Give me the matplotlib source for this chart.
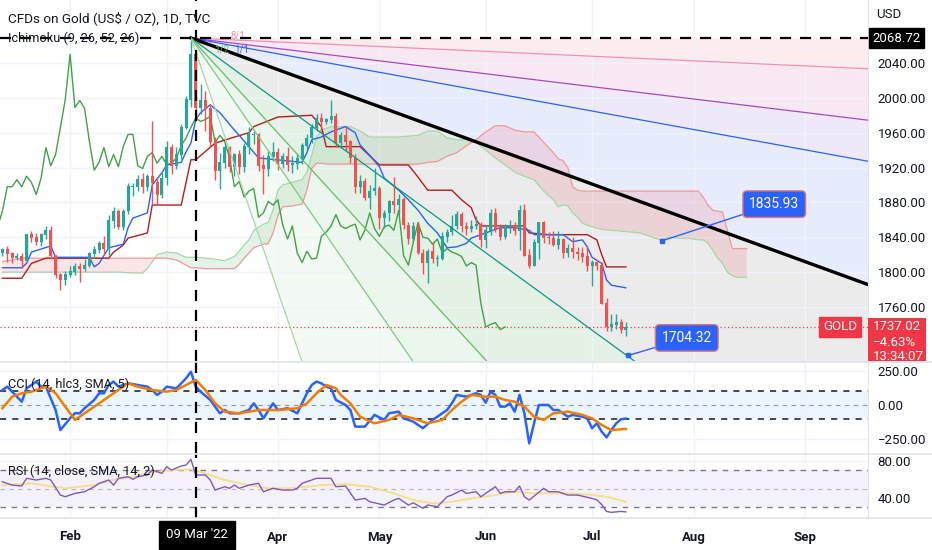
import matplotlib
matplotlib.use('Agg')
import matplotlib.pyplot as plt
from matplotlib.patches import Rectangle
import numpy as np
import pandas as pd

# daily bars, 12 Jan 2022 .. 12 Jul 2022 (bar 0 = 1 Feb)
o = [1822,1826,1821,1817,1818,1813,1843,1840,1835,1843,1848,1819,1797,1791,
     1797,1801,1807,1804,1808,1821,1826,1833,1827,1859,1870,1852,1870,1898,1898,1906,1898,1910,1903,1889,
     1908,1943,1922,1935,1966,1998,2050,1989,1997,1988,1950,1917,1926,1943,1921,1935,1921,1944,1958,1958,1922,1919,1933,
     1937,1925,1933,1923,1925,1931,1945,1954,1966,1977,1973,1975,1979,1949,1957,1950,1931,1898,1904,1886,1893,
     1896,1863,1868,1881,1877,1883,1854,1838,1853,1822,1811,1824,1815,1816,1841,1846,1853,1866,1853,1850,1853,1855,
     1837,1848,1868,1850,1841,1852,1854,1848,1871,1819,1808,1834,1857,1840,1839,1832,1838,1822,1827,1823,1821,1818,
     1807,1811,1808,1764,1737,1740,1742,1734]
h = [1828,1830,1823,1822,1822,1844,1847,1845,1845,1853,1853,1820,1799,1801,
     1807,1810,1811,1815,1823,1830,1836,1842,1865,1875,1872,1872,1902,1902,1911,1914,1913,1974,1909,1915,
     1950,1947,1944,1970,2002,2068.7,2055,2016,2008,1993,1955,1937,1948,1945,1937,1940,1948,1966,1962,1960,1934,1939,1949,
     1942,1937,1944,1933,1936,1948,1958,1970,1981,1983,1977,1998,1983,1961,1966,1952,1936,1911,1908,1900,1920,
     1899,1871,1883,1909,1890,1886,1858,1858,1858,1826,1826,1835,1820,1846,1849,1865,1870,1869,1858,1860,1864,1858,
     1853,1872,1874,1855,1855,1860,1857,1877,1878,1826,1838,1858,1859,1846,1847,1847,1839,1832,1840,1829,1829,1830,
     1814,1814,1812,1770,1752,1752,1746,1743]
l = [1819,1812,1810,1814,1805,1812,1834,1831,1830,1838,1815,1793,1780,1785,
     1794,1797,1789,1801,1806,1816,1822,1820,1820,1851,1850,1848,1867,1887,1893,1891,1893,1878,1878,1885,
     1900,1913,1918,1930,1964,1990,1974,1981,1962,1945,1906,1895,1920,1915,1910,1913,1915,1936,1947,1916,1890,1910,1928,
     1917,1920,1916,1914,1918,1924,1940,1948,1962,1962,1970,1971,1944,1942,1939,1925,1891,1891,1883,1872,1889,
     1850,1851,1859,1868,1867,1850,1832,1836,1821,1798,1787,1810,1807,1814,1834,1843,1849,1846,1843,1846,1850,1829,
     1828,1843,1846,1837,1838,1845,1843,1825,1819,1805,1807,1815,1833,1832,1830,1826,1816,1817,1816,1814,1812,1801,
     1784,1803,1763,1733,1733,1735,1730,1727]
c = [1826,1821,1817,1818,1813,1843,1840,1835,1843,1848,1819,1797,1791,1797,
     1801,1807,1804,1808,1821,1826,1833,1827,1859,1870,1852,1870,1898,1898,1906,1898,1910,1903,1889,1908,
     1943,1922,1935,1966,1998,2050,1989,1997,1988,1950,1917,1926,1943,1921,1935,1921,1944,1958,1958,1922,1919,1933,1937,
     1925,1933,1923,1925,1931,1945,1954,1966,1977,1973,1975,1979,1949,1957,1950,1931,1898,1904,1886,1893,1896,
     1863,1868,1881,1877,1883,1854,1838,1853,1822,1811,1824,1815,1816,1841,1846,1853,1866,1853,1850,1853,1855,1837,
     1848,1868,1850,1841,1852,1854,1848,1871,1819,1808,1834,1857,1840,1839,1832,1838,1822,1827,1823,1821,1818,1807,
     1811,1808,1764,1737,1740,1742,1734,1737]

# Ichimoku lines (bar, price)
tenkan_x = [-14,-10,-9,-8,-4,-3,4,5,6,8,11,12,13,16,17,19,20,23,24,25,26,27,29,31,34,35,39,48,49,50,52,54,57,59,60,
            62,64,65,68,70,72,74,76,78,80,82,83,86,89,92,95,96,102,104,106,107,108,110,111,112,115]
tenkan = [1805,1805,1810,1823,1830,1817,1817,1806,1810,1828,1832,1851,1862,1868,1900,1914,1923,1926,1938,1948,1975,
          1983,1992,1983,1963,1957,1931,1926,1937,1952,1955,1961,1967,1960,1946,1934,1921,1908,1894,1883,1871,1856,
          1845,1828,1829,1833,1839,1845,1851,1851,1848,1843,1843,1835,1837,1829,1817,1810,1791,1785,1782]
kijun_x = [-14,-10,-8,-5,8,9,11,12,16,17,23,25,26,30,34,37,38,43,50,52,53,60,64,70,72,74,79,81,83,84,85,94,95,99,
           107,109,110,111,115]
kijun = [1793,1793,1810,1816,1816,1823,1831,1839,1845,1877,1877,1929,1929,1948,1955,1960,1967,1978,1980,1967,1944,
         1944,1923,1923,1909,1894,1894,1883,1874,1860,1853,1853,1845,1843,1843,1837,1820,1806,1806]
cloud_x = [-14,-10,-6,-2,1,4,7,10,13,15,16,17,18,20,22,24,25,26,28,30,32,34,35,36,37,38,40,41,42,43,44,46,48,49,50,
           51,52,53,54,56,58,60,62,64,66,68,70,72,74,76,78,80,82,84,86,88,90,92,94,96,98,100,101,102,103,104,105,
           106,108,110,112,114,116,118,120,122,124,126,128,130,131,132,133,134,135,136,137,138,140]
span_a = [1800,1800,1800,1800,1800,1800,1800,1800,1799,1799,1804,1812,1820,1823,1822,1817,1817,1817,1816,1815,
          1813,1818,1824,1831,1837,1848,1855,1857,1871,1894,1900,1903,1906,1915,1934,1955,1963,1965,1967,1967,
          1967,1962,1955,1955,1955,1955,1956,1957,1962,1962,1954,1952,1952,1949,1940,1931,1923,1915,1910,1906,
          1893,1883,1875,1877,1876,1868,1863,1856,1852,1849,1848,1847,1846,1845,1841,1837,1840,1839,1839,1837,
          1837,1833,1825,1816,1810,1800,1796,1794,1794]
span_b = [1812,1816,1816,1816,1816,1816,1816,1816,1816,1816,1816,1816,1816,1816,1814,1808,1805,1805,1804,1804,
          1804,1804,1809,1816,1822,1828,1832,1833,1845,1865,1875,1876,1878,1894,1919,1925,1925,1924,1924,1924,
          1924,1924,1924,1924,1924,1924,1924,1924,1926,1927,1933,1937,1945,1952,1961,1968,1968,1963,1961,1961,
          1949,1937,1930,1928,1920,1898,1894,1893,1893,1893,1893,1893,1893,1893,1893,1893,1893,1893,1893,1893,
          1886,1877,1871,1870,1869,1848,1827,1827,1827]

# CCI (14, hlc3) and its SMA 5
cci_x = [-14,-13,-12,-10,-9,-7,-6,-5,-3,-2,0,1,2,3,5,6,7,8,9,10,12,14,16,17,18,19,20,22,23,24,25,26,27,29,30,31,32,
         33,35,37,38,39,40,42,43,45,47,48,49,50,51,52,53,54,55,57,58,59,61,63,65,66,68,69,71,73,75,76,78,79,80,82,
         84,85,86,87,88,89,90,91,92,93,94,95,96,97,99,100,101,103,104,106,107,108,109,110,111,112,113,114,115]
cci = [110,135,98,24,122,172,135,135,-37,-184,-98,-61,-61,-24,37,86,86,147,172,135,159,147,135,110,74,98,135,122,
       159,196,245,135,98,37,-12,-61,-37,-61,-61,-37,12,-37,-98,12,-37,-24,-61,12,86,147,172,159,135,123,37,0,-37,
       -159,-159,-73,-110,-61,-49,-98,-122,-171,-110,-86,-37,12,74,61,86,74,17,98,74,-12,-12,12,-49,74,-61,-282,
       -135,0,0,-37,-37,-86,-73,-86,-98,-171,-135,-196,-238,-184,-135,-105,-100]
cci_ma_x = [-14,-12,-10,-8,-5,-3,-1,1,3,6,9,12,14,17,20,22,24,26,28,30,32,35,39,43,47,49,51,53,55,56,58,60,63,66,68,
            71,74,77,79,81,83,86,88,90,92,94,96,98,100,103,106,108,110,112,115]
cci_ma = [-24,61,86,98,135,86,-12,-110,-61,12,86,159,135,110,98,110,147,184,110,12,-49,-61,-37,-37,-24,12,86,147,
          123,74,12,-86,-135,-110,-73,-98,-135,-110,-37,24,74,61,61,37,24,-12,-86,-110,-61,-49,-73,-98,-147,-184,-176]

# RSI (14) and its SMA 14
rsi_x = [-14,-12,-10,-9,-7,-5,-4,-2,-1,1,3,5,6,8,9,10,12,13,14,16,17,19,20,21,23,24,25,26,28,29,30,32,33,34,35,37,
         39,40,42,44,46,47,48,50,51,52,54,55,57,59,61,62,65,67,68,70,71,73,74,76,78,79,81,82,84,85,88,89,90,92,93,
         94,95,98,99,101,103,105,108,109,110,111,112,114,115]
rsi = [57.6,54,53,61.3,59.5,61.3,59.5,43.2,41.4,45,46.8,52.2,55.9,59.5,54,61.3,63,60.2,63,64.9,70.3,66.7,73.8,70.3,
       74.6,75.7,81.8,64.9,64.9,59.5,48.6,52.2,50.5,54,50.5,54,55.9,46.8,50.5,48.6,48.6,50.5,55.9,59.5,61.3,61.3,
       61.3,52.2,53,37.8,39.6,36,32.4,37.8,39.6,32.4,34.8,28.9,32.4,30.6,41.4,43.2,48.6,45,46.8,41.4,52.2,45,46.8,
       46.8,53,41.4,37.8,50.5,46.8,46.8,43.2,43.2,39.6,38,33,25.5,24.5,25.5,25]
rsi_ma_x = [-14,-8,-1,5,9,13,17,21,25,28,32,37,41,45,49,52,57,62,67,71,75,79,83,88,92,96,100,104,108,111,115]
rsi_ma = [54,55.9,50.5,54,59.5,63,67.6,70.3,71,66.7,59.5,54,50.5,50.5,52.2,54,55,52.2,45,37.8,34.2,36,39.6,43.2,
          46.8,45,45,45,43.2,41.4,36]

months = ['Feb', '', 'Apr', 'May', 'Jun', 'Jul', 'Aug', 'Sep']   # Mar sits under the cursor label
last_price = 1737.02
fan_high = 2068.72
fan_unit = 2.02          # price per bar on the 1/1 line
fan_origin = 25          # 8 Mar

o, h, l, c = map(np.array, (o, h, l, c))
bar = np.arange(len(c)) - 14
span_a, span_b = np.array(span_a), np.array(span_b)

axis_days = pd.bdate_range('2022-01-12', '2022-09-30')
month_pos = [np.argmax(axis_days.month == m) - 14 for m in range(2, 10)]

W, H = 932, 550
fig = plt.figure(figsize=(W / 100, H / 100), dpi=100)
plt.rcParams['font.family'] = ['Roboto', 'DejaVu Sans']
TXT = '#131722'


def rect(top, bottom):
    return [0, 1 - bottom / H, 868 / W, (bottom - top) / H]


ax = fig.add_axes(rect(0, 361))
ax2 = fig.add_axes(rect(362, 453), sharex=ax)
ax3 = fig.add_axes(rect(454, 518), sharex=ax)

for a in (ax, ax2, ax3):
    a.set_facecolor('white')
    for s in a.spines.values():
        s.set_visible(False)
    a.spines['right'].set_visible(True)
    a.spines['right'].set_color('#e0e3eb')
    a.yaxis.tick_right()
    a.tick_params(axis='y', length=0, pad=7, labelsize=9.5, labelcolor=TXT)
    a.tick_params(axis='x', length=0)
    a.set_xticks(month_pos)
    a.grid(True, color='#f0f3fa', lw=1, zorder=0)
    a.set_axisbelow(True)
    a.axvline(26, color='black', ls=(0, (5, 4)), lw=1.6, zorder=9)

ax.set_xlim(-14.5, 165.1)
ax.set_ylim(1698, 2112.3)
ax.set_yticks(np.arange(1760, 2041, 40))
ax.yaxis.set_major_formatter(plt.FuncFormatter(lambda v, p: f'{v:.2f}'))
ax.tick_params(axis='x', labelbottom=False)
ax2.tick_params(axis='x', labelbottom=False)

# gann fan from the March high
ratios = [8, 3, 2, 1, 1 / 2, 1 / 3, 1 / 4, 1 / 8]
line_cols = ['#f48fb1', '#ab47bc', '#2962ff', 'black', '#089981', '#66bb6a', '#81c784', '#a5d6a7']
fills = ['#fdeced', '#f8e8f4', '#eee9f9', '#e7ecfc', '#ebebeb', '#e4f2e5', '#ebf6ec', '#f3faf3']
fx = np.array([fan_origin, 170.0])
fan_lines = [fan_high - fan_unit / r * (fx - fan_origin) for r in ratios]
prev = np.full(2, fan_high)
for fy, fc in zip(fan_lines, fills):
    ax.fill_between(fx, prev, fy, color=fc, lw=0, zorder=0.2)
    prev = fy
for fy, lc, r in zip(fan_lines, line_cols, ratios):
    ax.plot(fx, fy, color=lc, lw=2.4 if r == 1 else 0.9, zorder=7)
ax.text(34.8, 2072, '8/1', color='#f48fb1', fontsize=7, ha='center', va='center', zorder=8)
ax.text(31.4, 2056, '1/2', color='#66bb6a', fontsize=7, ha='center', va='center', zorder=8)
ax.text(35.4, 2056, '1/1', color='#2962ff', fontsize=7, ha='center', va='center', zorder=8)
ax.axhline(fan_high, color='black', ls=(0, (5, 4)), lw=1.6, zorder=9)

# ichimoku cloud
ax.fill_between(cloud_x, span_a, span_b, where=span_a >= span_b, interpolate=True,
                color='#43a047', alpha=0.13, lw=0, zorder=1)
ax.fill_between(cloud_x, span_a, span_b, where=span_a < span_b, interpolate=True,
                color='#f23645', alpha=0.13, lw=0, zorder=1)
ax.plot(cloud_x, span_a, color='#a5d6a7', lw=0.9, zorder=2)
ax.plot(cloud_x, span_b, color='#ef9a9a', lw=0.9, zorder=2)
ax.plot(bar - 25, c, color='#43a047', lw=1, zorder=3)
ax.plot(kijun_x, kijun, color='#b71c1c', lw=1, zorder=3)
ax.plot(tenkan_x, tenkan, color='#2962ff', lw=1, zorder=3)

# candles
col = np.where(c >= o, '#26a69a', '#ef5350')
ax.vlines(bar, l, h, colors=col, lw=1, zorder=5)
ax.bar(bar, np.abs(c - o) + 0.8, bottom=np.minimum(o, c) - 0.4, width=0.62, color=col, lw=0, zorder=6)
ax.axhline(last_price, color='#f23645', ls=(0, (1, 2)), lw=0.9, zorder=4)

# callouts
for pt, txt, box in [((122.5, 1835.93), '1835.93', (145.7, 1878)),
                     ((115.5, 1704.32), '1704.32', (127.6, 1724.5))]:
    ax.plot(*pt, 's', color='#2962ff', ms=3.5, zorder=10)
    ax.annotate(txt, xy=pt, xytext=box, color='white', fontsize=10, ha='center', va='center', zorder=10,
                bbox=dict(boxstyle='round,pad=0.45,rounding_size=0.3', fc='#2962ff', ec='#e57373', lw=1),
                arrowprops=dict(arrowstyle='-', color='#2962ff', lw=1, shrinkA=0, shrinkB=0))

# CCI pane
ax2.set_ylim(-353, 316)
ax2.set_yticks([-250, 0, 250])
ax2.yaxis.set_major_formatter(plt.FuncFormatter(lambda v, p: f'{v:.2f}'.replace('-', '\u2212')))
ax2.axhspan(-100, 100, color='#2196f3', alpha=0.09, lw=0, zorder=0.5)
ax2.axhline(100, color='#131722', ls=(0, (4, 4)), lw=1.1)
ax2.axhline(-100, color='#131722', ls=(0, (4, 4)), lw=1.1)
ax2.axhline(0, color='#9598a1', ls=(0, (4, 4)), lw=0.8)
ax2.plot(cci_x, cci, color='#2962ff', lw=1.8, zorder=4)
ax2.plot(cci_ma_x, cci_ma, color='#f57c00', lw=1.8, zorder=5)

# RSI pane
ax3.set_ylim(18.4, 87.6)
ax3.set_yticks([40, 80])
ax3.yaxis.set_major_formatter(plt.FuncFormatter(lambda v, p: f'{v:.2f}'))
ax3.axhspan(30, 70, color='#7e57c2', alpha=0.08, lw=0, zorder=0.5)
ax3.axhline(70, color='#787b86', ls=(0, (4, 4)), lw=1)
ax3.axhline(30, color='#787b86', ls=(0, (4, 4)), lw=1)
ax3.axhline(50, color='#b2b5be', ls=(0, (4, 4)), lw=0.8)
ax3.plot(rsi_x, rsi, color='#7e57c2', lw=1, zorder=4)
ax3.plot(rsi_ma_x, rsi_ma, color='#f5e08a', lw=1.4, zorder=3)
ax3.set_xticklabels(months, fontsize=9.5, fontweight='bold', color=TXT)
ax3.tick_params(axis='x', pad=9)

# pane separators
for y in (361.5, 453.5, 518):
    fig.add_artist(plt.Line2D([0, 1], [1 - y / H] * 2, color='#e0e3eb', lw=1.2))

# legends / labels
fig.text(8 / W, 1 - 18 / H, 'CFDs on Gold (US$ / OZ), 1D, TVC', fontsize=9.7, color=TXT, va='center')
fig.text(8 / W, 1 - 38 / H, 'Ichimoku (9, 26, 52, 26)', fontsize=9.2, color=TXT, va='center')
fig.text(8 / W, 1 - 384 / H, 'CCI (14, hlc3, SMA, 5)', fontsize=9.2, color=TXT, va='center')
fig.text(8 / W, 1 - 471 / H, 'RSI (14, close, SMA, 14, 2)', fontsize=9.2, color=TXT, va='center')
fig.text(876 / W, 1 - 15 / H, 'USD', fontsize=9.5, color=TXT, va='center')

fig.text(197 / W, 1 - 535 / H, "09 Mar '22", fontsize=9.5, color='white', ha='center', va='center',
         bbox=dict(boxstyle='square,pad=0.55', fc='black', ec='black'))
fig.text(872 / W, 1 - 38 / H, '2068.72', fontsize=9.5, color='white', va='center',
         bbox=dict(boxstyle='square,pad=0.25', fc='black', ec='black'))
fig.text(840 / W, 1 - 327 / H, 'GOLD', fontsize=9.5, color='white', ha='center', va='center',
         bbox=dict(boxstyle='square,pad=0.3', fc='#f23645', ec='#f23645'))
box = Rectangle((868 / W, 1 - 361 / H), 58 / W, 43 / H, transform=fig.transFigure, fc='#f23645', ec='none')
fig.add_artist(box)
for yy, s in [(327, '1737.02'), (342, '\u22124.63%'), (357, '13:34:07')]:
    t = fig.text(873 / W, 1 - yy / H, s, fontsize=9.5, color='white', va='center')
    t.set_clip_path(box)

fig.savefig('out.png', dpi=100)
